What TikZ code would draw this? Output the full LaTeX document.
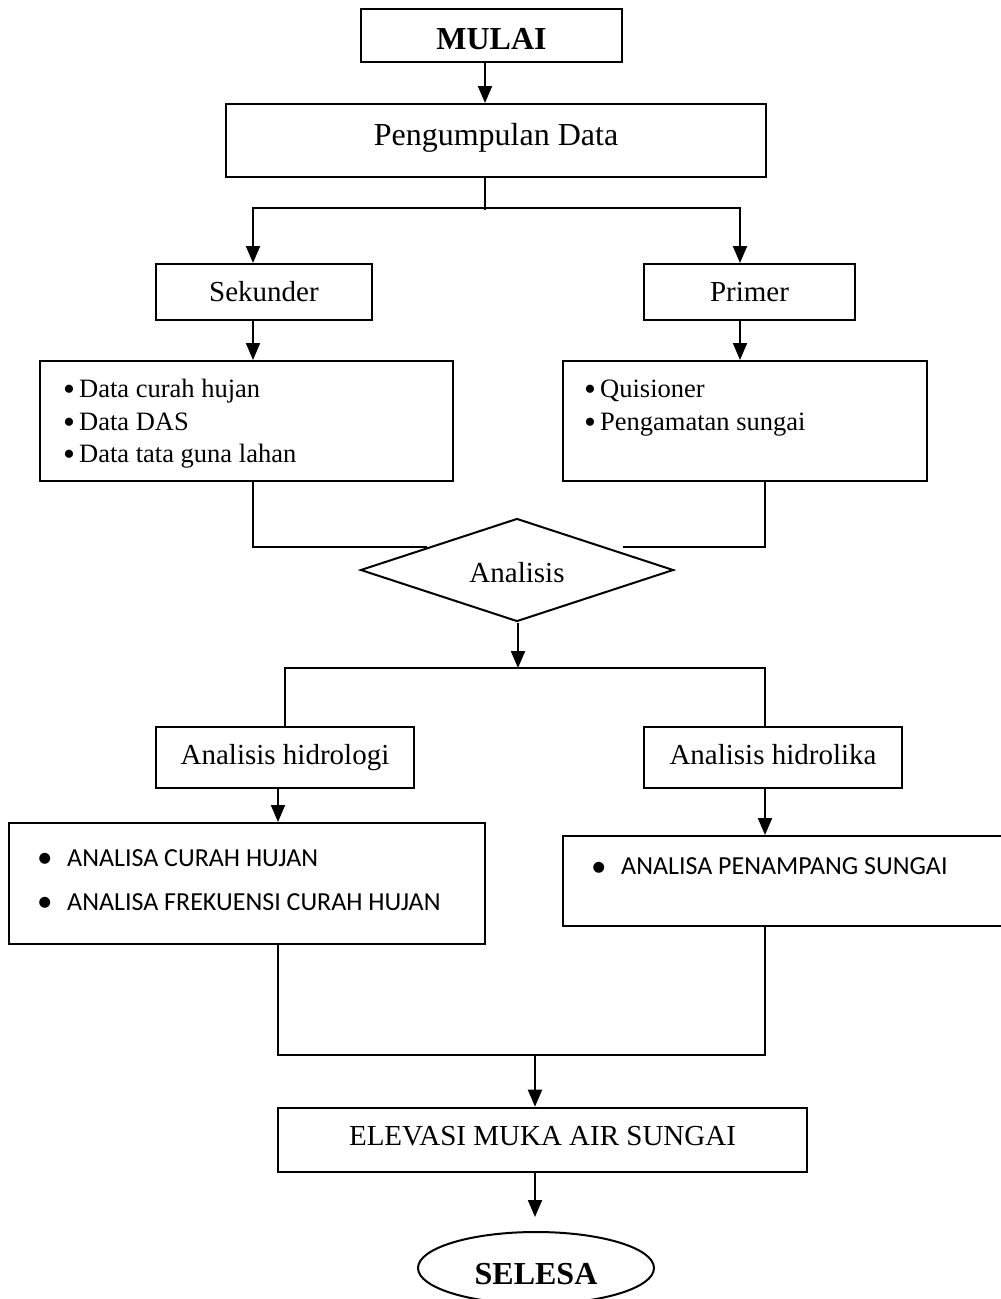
\documentclass[tikz,border=0pt]{standalone}
\usepackage{fontspec}
\setmainfont{Liberation Serif}
\newfontfamily\calfont{Carlito}
\usetikzlibrary{shapes.geometric,arrows.meta,calc}
\newcommand\cbul{\makebox[34.3pt][l]{\makebox[24pt][c]{\fontsize{31}{30}\selectfont\raisebox{-1.5pt}{•}}}}
\newcommand\tbul{\makebox[16pt][l]{\fontsize{34}{30}\selectfont\raisebox{-3pt}{•}}}
\begin{document}
\begin{tikzpicture}[x=1pt,y=-1pt,
  box/.style={draw, line width=2pt, inner sep=0pt, text depth=0pt},
  ln/.style={line width=2pt},
  arr/.style={ln, -{Triangle[length=17pt,width=14pt]}},
  fbig/.style={font=\fontsize{32}{38}\selectfont, text height=21.2pt},
  fbold/.style={font=\fontsize{32}{38}\selectfont\bfseries, text height=21.2pt},
  fmid/.style={font=\fontsize{29}{35}\selectfont, text height=19.2pt},
  dtxt/.style={font=\fontsize{26.5}{30}\selectfont, inner sep=0pt, anchor=base west},
  ctxt/.style={font=\calfont\fontsize{26}{30}\selectfont, inner sep=0pt, anchor=base west}]
\useasboundingbox (0,0) rectangle (1001,1299);

% nodes
\node[box, fbold, text height=28.8pt, minimum width=261pt, minimum height=53pt] (mulai) at (491.5,35.5) {MULAI};
\node[box, fbig, text height=9.2pt, minimum width=540pt, minimum height=73pt] (pd) at (496,140.5) {Pengumpulan Data};
\node[box, fmid, minimum width=216pt, minimum height=56pt] (sek) at (264,292) {Sekunder};
\node[box, fmid, minimum width=211pt, minimum height=56pt] (pri) at (749.5,292) {Primer};
\node[box, minimum width=413pt, minimum height=120pt] (dl) at (246.5,421) {};
\node[box, minimum width=364pt, minimum height=120pt] (dr) at (745,421) {};
\node[draw, line width=2pt, shape=diamond, aspect=3, inner sep=0pt, fmid, text height=24.2pt, text depth=0pt,
      minimum width=313pt, minimum height=103pt] (dia) at (517,570) {Analisis};
\node[box, fmid, text height=13.2pt, minimum width=258pt, minimum height=61pt] (ahl) at (285,757.5) {Analisis hidrologi};
\node[box, fmid, text height=13.2pt, minimum width=258pt, minimum height=61pt] (ahk) at (773,757.5) {Analisis hidrolika};
\node[box, minimum width=476pt, minimum height=121pt] (al) at (247,883.5) {};
\node[box, minimum width=452pt, minimum height=90pt] (ar) at (789,881) {};
\node[box, fmid, text height=11.4pt, minimum width=529pt, minimum height=64pt] (elev) at (542.5,1139.7) {ELEVASI MUKA AIR SUNGAI};
\node[draw, line width=2pt, shape=ellipse, inner sep=0pt, fbold, text height=33.2pt, text depth=0pt,
      minimum width=236pt, minimum height=72pt] (selesa) at (536,1268) {SELESA};

% texts in list boxes
\node[dtxt] (dl1) at (63,397) {\tbul Data curah hujan};
\node[dtxt] (dl2) at (63,430) {\tbul Data DAS};
\node[dtxt] (dl3) at (63,462) {\tbul Data tata guna lahan};
\node[dtxt] (dr1) at (584,397) {\tbul Quisioner};
\node[dtxt] (dr2) at (584,430.5) {\tbul Pengamatan sungai};
\node[ctxt] (al1) at (32.7,866) {\cbul ANALISA CURAH HUJAN};
\node[ctxt] (al2) at (32.7,910) {\cbul ANALISA FREKUENSI CURAH HUJAN};
\node[ctxt] (ar1) at (586.7,874.5) {\cbul ANALISA PENAMPANG SUNGAI};

% helper coordinates
\coordinate (xa) at (485,0);
\coordinate (sp) at (485,208);
\coordinate (spb) at (485,210);
\coordinate (xl) at (253,0);
\coordinate (xr) at (740,0);
\coordinate (xdr) at (765,0);
\coordinate (jl) at ($(dia.west)!0.43!(dia.north)$);
\coordinate (jr) at ($(dia.east)!0.43!(dia.north)$);
\coordinate (sp2) at (518,668);
\coordinate (xh) at (285,0);
\coordinate (xk) at (765,0);
\coordinate (xh2) at (278,0);
\coordinate (sp3) at (535,1055);
\coordinate (se) at ([yshift=14pt]selesa.north);

% connectors
\draw[arr] (mulai.south -| xa) -- (pd.north -| xa);
\draw[ln] (pd.south -| sp) -- (spb);
\draw[arr] (sp) -| (sek.north -| xl);
\draw[arr] (sp) -| (pri.north -| xr);
\draw[arr] (sek.south -| xl) -- (dl.north -| xl);
\draw[arr] (pri.south -| xr) -- (dr.north -| xr);
\draw[ln] (dl.south -| xl) |- (jl);
\draw[ln] (dr.south -| xdr) |- ([xshift=16pt]jr);
\draw[arr] (dia.south -| sp2) -- (sp2);
\draw[ln] (ahl.north -| xh) |- (sp2 -| xk) -- (ahk.north -| xk);
\draw[arr] (ahl.south -| xh2) -- (al.north -| xh2);
\draw[arr] (ahk.south -| xk) -- (ar.north -| xk);
\draw[ln] (al.south -| xh2) |- (sp3 -| xk) -- (ar.south -| xk);
\draw[arr] (sp3) -- (elev.north -| sp3);
\draw[arr] (elev.south -| sp3) -- (se -| sp3);
\end{tikzpicture}
\end{document}
